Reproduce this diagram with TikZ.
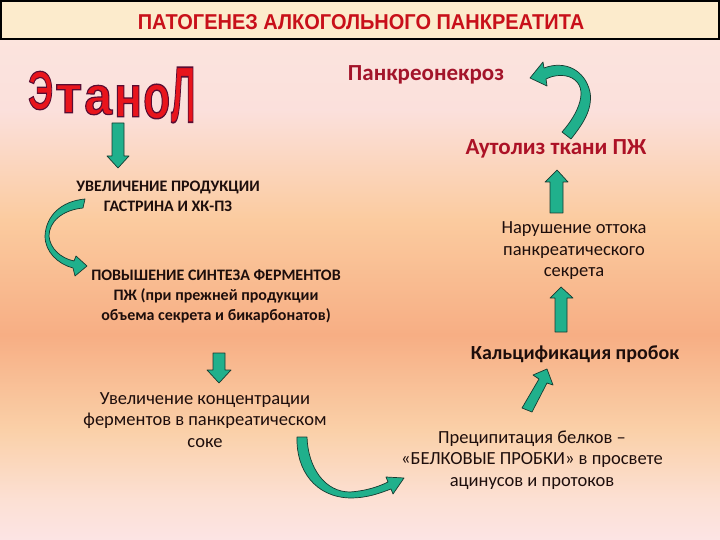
\documentclass[tikz,border=0pt]{standalone}
\usepackage{fontspec}
\usepackage{graphicx}
\setmainfont{Carlito}
\newfontfamily\titlefont{Liberation Sans}
\newfontfamily\etfont{Liberation Sans}
\definecolor{bgA}{HTML}{FCE6DE}
\definecolor{bgB}{HTML}{FBE0DC}
\definecolor{bgC}{HTML}{FBCB9F}
\definecolor{bgD}{HTML}{F7AE84}
\definecolor{bgE}{HTML}{FAD0A8}
\definecolor{bgF}{HTML}{FCE0D4}
\definecolor{bgG}{HTML}{FCE4E4}
\definecolor{titlebg}{HTML}{FCEBCC}
\definecolor{titlered}{HTML}{C8101A}
\definecolor{darkred}{HTML}{A3142A}
\definecolor{txt}{HTML}{1E0E0C}
\definecolor{grn}{HTML}{20B08C}
\definecolor{grnline}{HTML}{163A30}
\definecolor{etred}{HTML}{E8141C}
\tikzset{
  garrow/.style={fill=grn, draw=grnline, line width=0.7pt, line join=round},
  body/.style={text=txt, align=center, inner sep=0pt, font=\fontsize{18.5}{21.5}\selectfont},
  capsbody/.style={text=txt, align=center, inner sep=0pt, font=\bfseries\fontsize{16}{20}\selectfont},
  redhead/.style={inner sep=0pt, font=\bfseries\fontsize{23}{26}\selectfont},
}
\newcommand{\outl}{\special{pdf:literal direct 2 Tr 0.22 w 0.35 0.05 0.2 RG}}
\newcommand{\etl}[6]{%
  \node[anchor=south west, inner sep=0pt, text=etred] (#1) at (#2,#3) {\resizebox{#4pt}{#5pt}{\outl\etfont\bfseries #6}};
}
\begin{document}
\begin{tikzpicture}[x=1pt,y=-1pt]
\useasboundingbox (0,0) rectangle (720,540);
% background
\fill[top color=bgA, bottom color=bgB] (0,0) rectangle (720,110);
\fill[top color=bgB, bottom color=bgC] (0,110) rectangle (720,220);
\fill[top color=bgC, bottom color=bgD] (0,220) rectangle (720,335);
\fill[top color=bgD, bottom color=bgE] (0,335) rectangle (720,430);
\fill[top color=bgE, bottom color=bgF] (0,430) rectangle (720,500);
\fill[top color=bgF, bottom color=bgG] (0,500) rectangle (720,540);
% title
\node[draw=black, line width=1.5pt, fill=titlebg, minimum width=718pt, minimum height=38pt, inner sep=0pt] (titlebox) at (360,20) {};
\node[text=titlered, inner sep=0pt] (title) at (361,22) {\scalebox{0.93}[1]{\titlefont\bfseries\fontsize{21.5}{24}\selectfont ПАТОГЕНЕЗ АЛКОГОЛЬНОГО ПАНКРЕАТИТА}};
% Etanol
\etl{e1}{28}{110}{25}{38}{Э}
\etl{e2}{55}{113}{27}{28}{т}
\etl{e3}{84}{115}{28}{29}{а}
\etl{e4}{114}{117}{28}{31}{н}
\etl{e5}{143}{119}{27}{34}{о}
\etl{e6}{171}{123}{24}{55}{Л}
% texts
\node[redhead, text=darkred] (necro) at (426,75) {Панкреонекроз};
\node[redhead, text=darkred!90!red] (autol) at (556,149) {Аутолиз ткани ПЖ};
\node[capsbody] (gastr) at (168,196) {УВЕЛИЧЕНИЕ ПРОДУКЦИИ\\ГАСТРИНА И ХК-ПЗ};
\node[capsbody] (synth) at (216,296) {ПОВЫШЕНИЕ СИНТЕЗА ФЕРМЕНТОВ\\ПЖ (при прежней продукции\\объема секрета и бикарбонатов)};
\node[body] (konc) at (205,420) {Увеличение концентрации\\ферментов в панкреатическом\\соке};
\node[body] (prec) at (532,460) {Преципитация белков –\\«БЕЛКОВЫЕ ПРОБКИ» в просвете\\ацинусов и протоков};
\node[body, font=\bfseries\fontsize{20}{24}\selectfont] (calc) at (575,354) {Кальцификация пробок};
\node[body] (narush) at (574,251) {Нарушение оттока\\панкреатического\\секрета};
% straight arrows
\draw[garrow] (112,123) -- (124,123) -- (124,156) -- (129,156) -- (118,168) -- (107,156) -- (112,156) -- cycle;
\draw[garrow] (213,353) -- (225,353) -- (225,370) -- (231,370) -- (219,383) -- (207,370) -- (213,370) -- cycle;
\draw[garrow] (555,332) -- (567,332) -- (567,298) -- (573,298) -- (561,287) -- (550,298) -- (555,298) -- cycle;
\draw[garrow] (550,213) -- (563,213) -- (563,182) -- (568,182) -- (557,170) -- (545,182) -- (550,182) -- cycle;
% diagonal arrow
\draw[garrow] (522,408) -- (532,412) -- (547,383) -- (553,385) -- (547,369) -- (533,375) -- (539,379) -- cycle;
% curved arrow left
\draw[garrow] (85,199) .. controls (62,201) and (46,215) .. (45,236) .. controls (45,252) and (58,264) .. (73,268) -- (75,276) -- (87,266) -- (76,256) -- (74,261) .. controls (60,258) and (50,248) .. (49,236) .. controls (49,222) and (62,210) .. (83,208) -- cycle;
% curved arrow bottom
\draw[garrow] (297,437) .. controls (296,470) and (315,497) .. (350,498) .. controls (368,498) and (380,493) .. (391,489) -- (393,494) -- (404,478) -- (386,477) -- (388,482) .. controls (378,487) and (365,491) .. (350,492) .. controls (325,492) and (308,468) .. (307,437) -- cycle;
% curved arrow top right
\draw[garrow] (562,132) .. controls (578,114) and (590,88) .. (572,78) .. controls (564,74) and (554,75) .. (546,79) -- (547,86) -- (530,78) -- (543,62) -- (544,68) .. controls (565,60) and (585,70) .. (590,92) .. controls (593,110) and (582,125) .. (571,139) -- cycle;
\end{tikzpicture}
\end{document}
